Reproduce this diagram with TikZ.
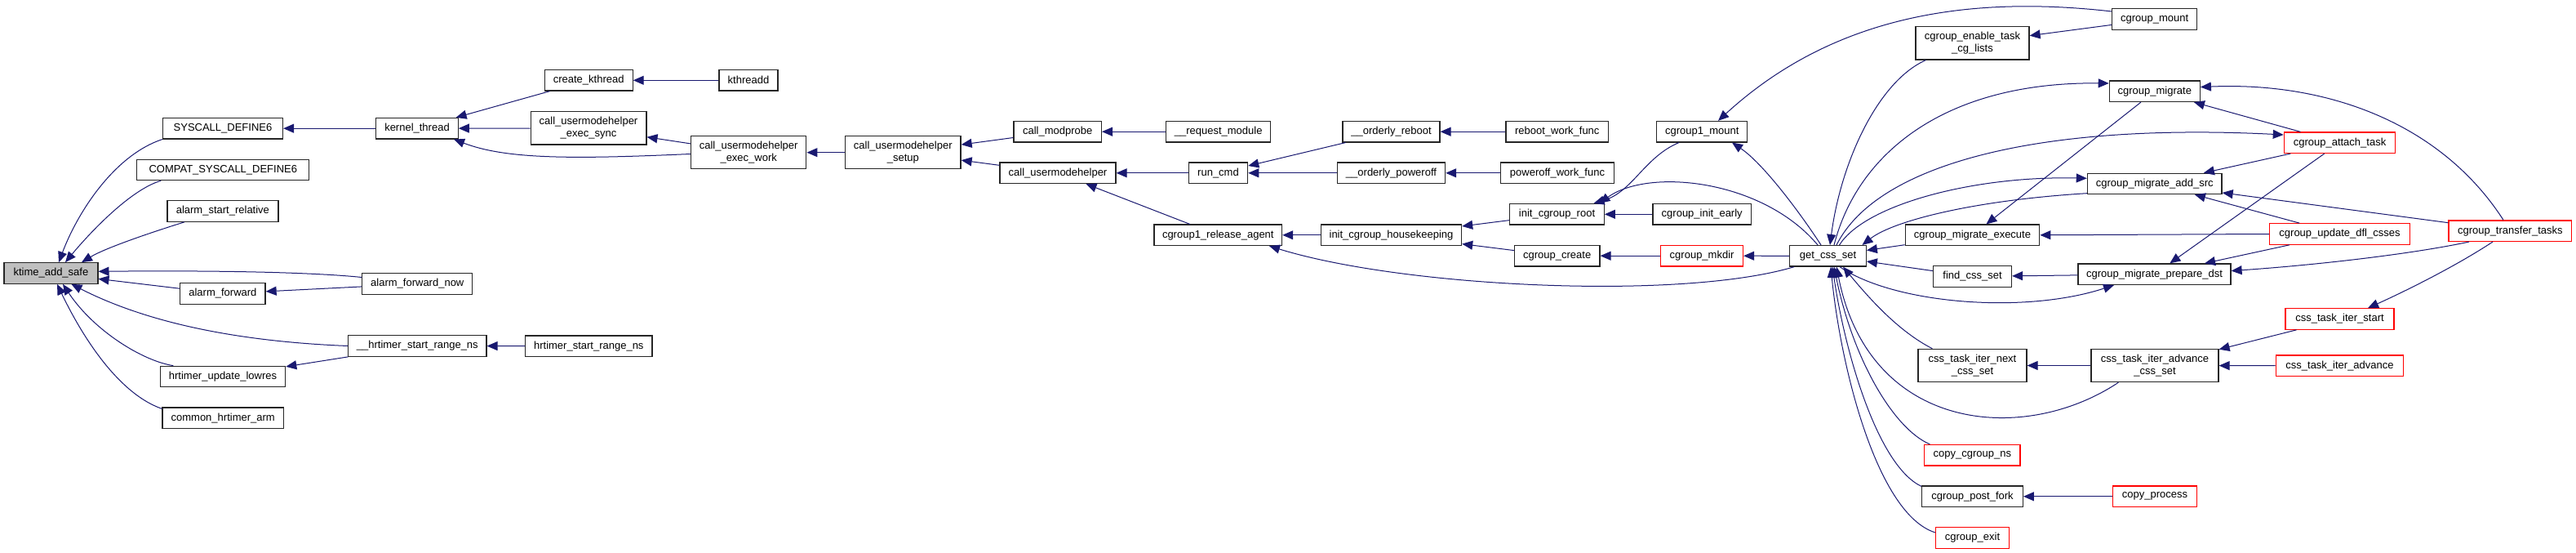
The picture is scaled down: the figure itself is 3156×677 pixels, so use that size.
\documentclass[tikz,border=0pt]{standalone}
\usepackage{fontspec}
\setmainfont{Liberation Sans}
\usetikzlibrary{arrows.meta}
\definecolor{mb}{HTML}{191970}
\definecolor{rd}{HTML}{FF0000}
\definecolor{gf}{HTML}{BFBFBF}
\tikzset{
  nd/.style={draw=black!85, line width=1.2pt, rectangle, inner sep=0pt, minimum height=25.5pt, align=center, font=\fontsize{13}{15}\selectfont, text=black},
  rn/.style={nd, draw=rd},
  dn/.style={minimum height=40.2pt},
  arr/.style={draw=mb, line width=1pt, -{Triangle[length=13pt,width=11pt]}, mb}
}
\begin{document}
\begin{tikzpicture}[x=1pt,y=1pt]
\useasboundingbox (0,0) rectangle (3156,-677);
% column 0
\node[nd, fill=gf, minimum width=115pt] (ktime) at (62.4,-334.5) {ktime\_add\_safe};
% column 1
\node[nd, minimum width=147pt] (sysd) at (273,-157.2) {SYSCALL\_DEFINE6};
\node[nd, minimum width=211pt] (compat) at (273.3,-207.9) {COMPAT\_SYSCALL\_DEFINE6};
\node[nd, minimum width=136pt] (asr) at (272.9,-258.5) {alarm\_start\_relative};
\node[nd, minimum width=104.3pt] (af) at (272.9,-359.5) {alarm\_forward};
\node[nd, minimum width=153.4pt] (hul) at (273,-461) {hrtimer\_update\_lowres};
\node[nd, minimum width=148.3pt] (cha) at (273.2,-511.8) {common\_hrtimer\_arm};
% column 2
\node[nd, minimum width=100.4pt] (kt) at (511,-157.2) {kernel\_thread};
\node[nd, minimum width=135pt] (afn) at (511.3,-347.5) {alarm\_forward\_now};
\node[nd, minimum width=169.3pt] (hsrn) at (511.3,-423.5) {\_\_hrtimer\_start\_range\_ns};
% column 3
\node[nd, minimum width=107.8pt] (ck) at (721.2,-98.3) {create\_kthread};
\node[nd, dn, minimum width=141.8pt] (sync) at (721,-156.9) {call\_usermodehelper\\\_exec\_sync};
\node[nd, minimum width=155.3pt] (hrsn) at (721.3,-423.7) {hrtimer\_start\_range\_ns};
% column 4
\node[nd, minimum width=72pt] (kthreadd) at (917,-98.3) {kthreadd};
\node[nd, dn, minimum width=141.3pt] (ew) at (917.2,-186.7) {call\_usermodehelper\\\_exec\_work};
% column 5
\node[nd, dn, minimum width=141.5pt] (setup) at (1106.3,-186.7) {call\_usermodehelper\\\_setup};
% column 6
\node[nd, minimum width=107.4pt] (cmp) at (1295.7,-161.2) {call\_modprobe};
\node[nd, minimum width=142pt] (cuh) at (1296,-211.8) {call\_usermodehelper};
% column 7
\node[nd, minimum width=128pt] (rm) at (1492.7,-161.2) {\_\_request\_module};
\node[nd, minimum width=72.3pt] (runcmd) at (1492.5,-211.8) {run\_cmd};
\node[nd, minimum width=156.6pt] (cra) at (1492.3,-287.8) {cgroup1\_release\_agent};
% column 8
\node[nd, minimum width=119pt] (oreboot) at (1704.5,-161.2) {\_\_orderly\_reboot};
\node[nd, minimum width=132.2pt] (opoweroff) at (1704.5,-211.8) {\_\_orderly\_poweroff};
\node[nd, minimum width=172.2pt] (ich) at (1704.5,-287.8) {init\_cgroup\_housekeeping};
% column 9
\node[nd, minimum width=125.6pt] (rwf) at (1907.8,-161.2) {reboot\_work\_func};
\node[nd, minimum width=139.2pt] (pwf) at (1908,-211.8) {poweroff\_work\_func};
\node[nd, minimum width=115.5pt] (icr) at (1907.5,-262.3) {init\_cgroup\_root};
\node[nd, minimum width=104.5pt] (ccreate) at (1907.7,-313.2) {cgroup\_create};
% column 10
\node[nd, minimum width=111pt] (c1m) at (2085.3,-161.2) {cgroup1\_mount};
\node[nd, minimum width=120.3pt] (cie) at (2085.2,-262.3) {cgroup\_init\_early};
\node[rn, minimum width=100.8pt] (cmkdir) at (2085.1,-313.2) {cgroup\_mkdir};
% column 11
\node[nd, minimum width=93.6pt] (gcs) at (2239.5,-313.3) {get\_css\_set};
% column 12
\node[nd, dn, minimum width=139pt] (cet) at (2416.5,-52.9) {cgroup\_enable\_task\\\_cg\_lists};
\node[nd, minimum width=164.5pt] (cme) at (2416.5,-287.8) {cgroup\_migrate\_execute};
\node[nd, minimum width=96pt] (fcs) at (2416.5,-338.5) {find\_css\_set};
\node[nd, dn, minimum width=133pt] (ctin) at (2416.5,-447.5) {css\_task\_iter\_next\\\_css\_set};
\node[rn, minimum width=117.3pt] (ccns) at (2416.3,-557.2) {copy\_cgroup\_ns};
\node[nd, minimum width=123.6pt] (cpf) at (2416.5,-607.8) {cgroup\_post\_fork};
\node[rn, minimum width=89.6pt] (cex) at (2416.5,-658.5) {cgroup\_exit};
% column 13
\node[nd, minimum width=104pt] (cm) at (2639.7,-23.5) {cgroup\_mount};
\node[nd, minimum width=111pt] (cmig) at (2639.8,-111.8) {cgroup\_migrate};
\node[nd, minimum width=164.7pt] (cmas) at (2639.7,-225) {cgroup\_migrate\_add\_src};
\node[nd, minimum width=187pt] (cmpd) at (2639.5,-335.7) {cgroup\_migrate\_prepare\_dst};
\node[nd, dn, minimum width=156pt] (ctiacs) at (2640,-447.5) {css\_task\_iter\_advance\\\_css\_set};
\node[rn, minimum width=103.3pt] (cp) at (2640,-607.8) {copy\_process};
% column 14
\node[rn, minimum width=136.4pt] (cat) at (2866.5,-174.7) {cgroup\_attach\_task};
\node[rn, minimum width=171.5pt] (cudc) at (2866.5,-286.5) {cgroup\_update\_dfl\_csses};
\node[rn, minimum width=133pt] (ctis) at (2866.5,-390.5) {css\_task\_iter\_start};
\node[rn, minimum width=156.5pt] (ctia) at (2866.5,-447.8) {css\_task\_iter\_advance};
% column 15
\node[rn, minimum width=150.6pt] (ctt) at (3075.3,-282.7) {cgroup\_transfer\_tasks};

% ---- edges into ktime_add_safe
\draw[arr] (sysd.south west) .. controls (140,-190) and (95,-260) .. ([xshift=9.6pt]ktime.north);
\draw[arr] ([xshift=30pt]compat.south west) .. controls (160,-232) and (110,-285) .. ([xshift=17.6pt]ktime.north);
\draw[arr] ([xshift=21.6pt]asr.south west) .. controls (190,-283) and (130,-303) .. ([xshift=37.6pt]ktime.north);
\draw[arr] ([yshift=8pt]afn.west) .. controls (380,-333) and (260,-331) .. ([yshift=2.2pt]ktime.east);
\draw[arr] (af) -- (ktime);
\draw[arr] (hsrn.west) .. controls (290,-418) and (180,-395) .. ([xshift=25pt]ktime.south);
\draw[arr] ([xshift=16.7pt]hul.north west) .. controls (175,-442) and (115,-405) .. ([xshift=14.6pt]ktime.south);
\draw[arr] ([yshift=-2pt]cha.north west) .. controls (140,-480) and (95,-400) .. ([xshift=7.6pt]ktime.south);
% ---- left part
\draw[arr] (kt) -- (sysd);
\draw[arr] (afn) -- (af);
\draw[arr] (hsrn) -- (hul);
\draw[arr] (hrsn) -- (hsrn);
\draw[arr] (ck) -- (kt);
\draw[arr] (sync) -- (kt);
\draw[arr] ([yshift=-1.8pt]ew.west) .. controls (700,-195) and (620,-195) .. ([xshift=45pt]kt.south);
\draw[arr] (kthreadd) -- (ck);
\draw[arr] (ew) -- (sync);
\draw[arr] (setup) -- (ew);
\draw[arr] (cmp) -- (setup);
\draw[arr] (cuh) -- (setup);
\draw[arr] (rm) -- (cmp);
\draw[arr] (runcmd) -- (cuh);
\draw[arr] (cra) -- (cuh);
\draw[arr] (oreboot) -- (runcmd);
\draw[arr] (opoweroff) -- (runcmd);
\draw[arr] (rwf) -- (oreboot);
\draw[arr] (pwf) -- (opoweroff);
\draw[arr] (ich) -- (cra);
\draw[arr] ([xshift=6pt]gcs.south west) .. controls (2060,-368) and (1720,-352) .. ([xshift=62.7pt]cra.south);
\draw[arr] (icr) -- (ich);
\draw[arr] (ccreate) -- (ich);
\draw[arr] ([xshift=-28.3pt]c1m.south) .. controls (2015,-192) and (2000,-235) .. ([xshift=45pt]icr.north);
\draw[arr] (cie) -- (icr);
\draw[arr] ([xshift=-12.5pt]gcs.north) .. controls (2160,-220) and (2020,-205) .. ([xshift=52pt]icr.north);
\draw[arr] (cmkdir) -- (ccreate);
\draw[arr] (gcs) -- (cmkdir);
\draw[arr] ([xshift=-8.5pt]gcs.north) .. controls (2205,-260) and (2160,-200) .. ([xshift=36.7pt]c1m.south);
\draw[arr] ([yshift=9.5pt]cm.west) .. controls (2420,5) and (2250,-15) .. ([xshift=19.7pt]c1m.north);
% ---- around get_css_set
\draw[arr] ([xshift=13pt]cet.south west) .. controls (2300,-100) and (2255,-200) .. ([xshift=2.5pt]gcs.north);
\draw[arr] ([xshift=7.5pt]gcs.north) .. controls (2275,-190) and (2380,-100) .. ([yshift=9.8pt]cmig.west);
\draw[arr] ([xshift=10.5pt]gcs.north) .. controls (2300,-200) and (2500,-150) .. ([yshift=9.7pt]cat.west);
\draw[arr] ([xshift=14pt]gcs.north) .. controls (2285,-250) and (2420,-215) .. ([yshift=6.7pt]cmas.west);
\draw[arr] ([yshift=-11.7pt]cmas.west) .. controls (2420,-245) and (2320,-270) .. ([xshift=42pt]gcs.north);
\draw[arr] (cmig) -- (cme);
\draw[arr] (cudc.west) -- (cme.east);
\draw[arr] (cme) -- (gcs);
\draw[arr] (fcs) -- (gcs);
\draw[arr] (cmpd) -- (fcs);
\draw[arr] ([xshift=14.5pt]gcs.south) .. controls (2320,-372) and (2480,-385) .. ([xshift=-49.5pt]cmpd.south);
\draw[arr] ([xshift=18pt]ctin.north west) .. controls (2325,-405) and (2290,-365) .. ([xshift=18.5pt]gcs.south);
\draw[arr] (ctiacs) -- (ctin);
\draw[arr] ([xshift=34pt]ctiacs.south west) .. controls (2480,-545) and (2290,-530) .. ([xshift=10.5pt]gcs.south);
\draw[arr] ([xshift=7.3pt]ccns.north west) .. controls (2320,-525) and (2270,-440) .. ([xshift=7.5pt]gcs.south);
\draw[arr] ([yshift=-1pt]cpf.north west) .. controls (2300,-570) and (2260,-430) .. ([xshift=5.5pt]gcs.south);
\draw[arr] (cp) -- (cpf);
\draw[arr] ([yshift=6.5pt]cex.west) .. controls (2300,-630) and (2255,-450) .. ([xshift=3.5pt]gcs.south);
% ---- right part
\draw[arr] (cm) -- (cet);
\draw[arr] ([xshift=-8.3pt]ctt.north) .. controls (2990,-150) and (2850,-100) .. ([yshift=5.2pt]cmig.east);
\draw[arr] (cat) -- (cmig);
\draw[arr] (cat) -- (cmas);
\draw[arr] (ctt) -- (cmas);
\draw[arr] (cudc) -- (cmas);
\draw[arr] (cat) -- (cmpd);
\draw[arr] (cudc) -- (cmpd);
\draw[arr] ([xshift=-50.3pt]ctt.south) .. controls (2950,-312) and (2830,-325) .. ([yshift=4.1pt]cmpd.east);
\draw[arr] ([xshift=-21.3pt]ctt.south) .. controls (3010,-325) and (2950,-355) .. ([xshift=34.5pt]ctis.north);
\draw[arr] (ctis) -- (ctiacs);
\draw[arr] (ctia) -- (ctiacs);
\end{tikzpicture}
\end{document}
